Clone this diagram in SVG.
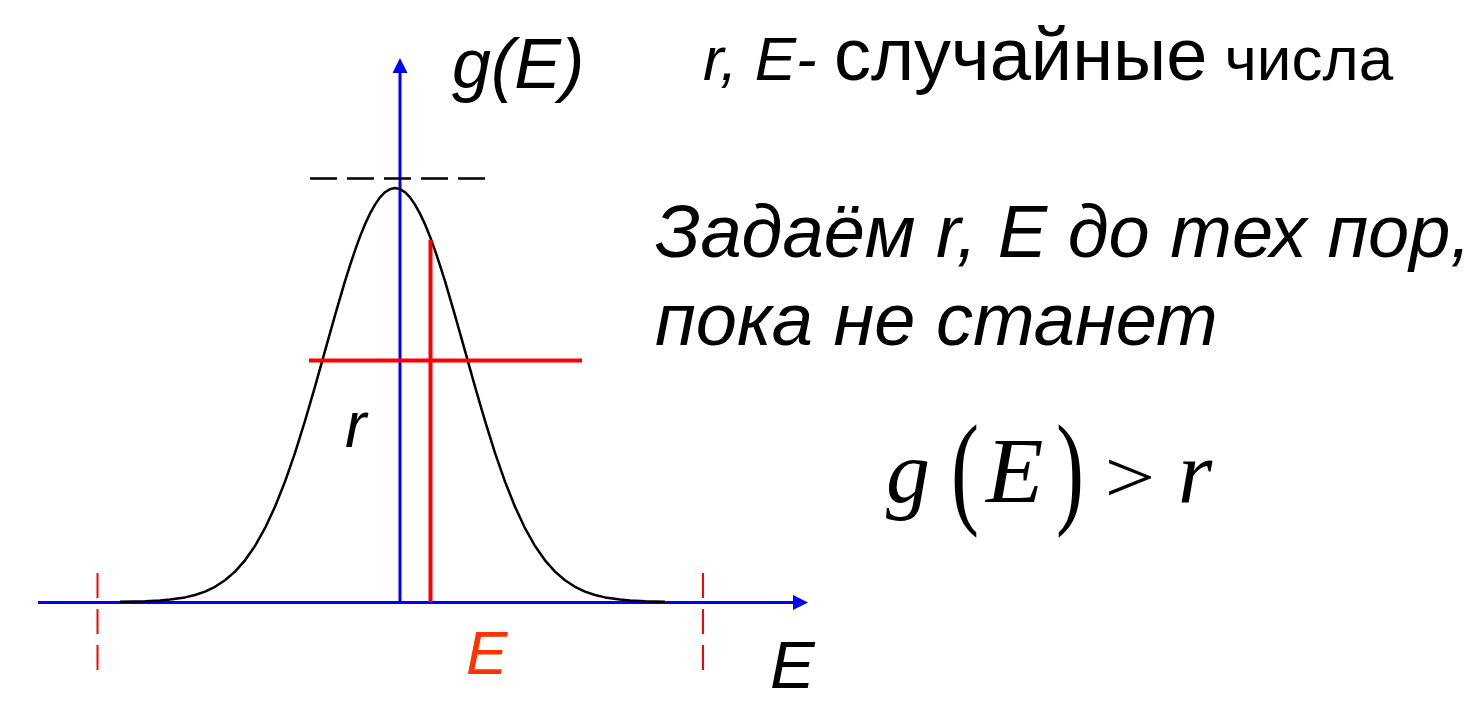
<svg xmlns="http://www.w3.org/2000/svg" width="1482" height="703" viewBox="0 0 1482 703">
<style>
.it{font-style:italic}
.axis{stroke:#0000FF;stroke-width:3;fill:none}
.red{stroke:#FF0000;stroke-width:4;fill:none}
.tick{stroke:#FF0000;stroke-width:2;stroke-dasharray:25 11;fill:none}
</style>
<rect width="1482" height="703" fill="#FFFFFF"/>
<g id="connectors">
<line class="axis" x1="38" y1="602.5" x2="795" y2="602.5"/>
<polygon points="793,595 808,602.5 793,610" fill="#0000FF"/>
<line class="axis" x1="400" y1="602" x2="400" y2="71"/>
<polygon points="392.5,73 400,58 407.5,73" fill="#0000FF"/>
</g>
<g id="curve">
<polyline fill="none" stroke="#000000" stroke-width="2.5" stroke-linejoin="round" points="120,601.8 145,601.3 160,600.5 170,599.6 185,597.4 195,595.0 205,591.6 215,586.8 225,580.3 235,571.6 245,560.3 255,546.0 265,528.2 275,506.7 285,481.6 295,452.8 305,420.8 315,386.6 325,350.9 335,315.3 345,281.2 350,265.3 355,250.4 360,236.6 365,224.3 370,213.6 375,204.6 380,197.4 385,192.2 390,189.1 395,188 400,189.1 405,192.2 410,197.4 415,204.6 420,213.6 425,224.3 430,236.6 435,250.4 440,265.3 445,281.2 455,315.3 465,350.9 475,386.6 485,420.8 495,452.8 505,481.6 515,506.7 525,528.2 535,546.0 545,560.3 555,571.6 565,580.3 575,586.8 585,591.6 595,595.0 605,597.4 620,599.6 630,600.5 645,601.3 665,601.8"/>
</g>
<g id="max-line">
<line x1="310" y1="178.5" x2="486" y2="178.5" stroke="#000000" stroke-width="2.5" stroke-dasharray="27 10"/>
</g>
<g id="limits">
<line class="tick" x1="97.5" y1="573" x2="97.5" y2="672"/>
<line class="tick" x1="703" y1="573" x2="703" y2="672"/>
</g>
<g id="random-point">
<line class="red" x1="430.5" y1="240" x2="430.5" y2="602"/>
<line class="red" x1="309" y1="360.5" x2="582" y2="360.5"/>
</g>
<g id="labels" font-family="Liberation Sans, Arial, sans-serif">
<text class="it" x="452" y="88" font-size="70" fill="#000">g(E)</text>
<text class="it" x="345" y="447" font-size="64" fill="#000">r</text>
<text class="it" x="466" y="674" font-size="62" fill="#FF3300">E</text>
<text class="it" x="770" y="688" font-size="67" fill="#000">E</text>
</g>
<g id="headline" font-family="Liberation Sans, Arial, sans-serif">
<text x="703" y="80" fill="#000"><tspan class="it" font-size="62">r, E- </tspan><tspan font-size="74">случайные</tspan><tspan font-size="62"> числа</tspan></text>
</g>
<g id="condition-text" font-family="Liberation Sans, Arial, sans-serif">
<text class="it" x="655" y="257" font-size="74" fill="#000">Задаём r, E до тех пор,</text>
<text class="it" x="655" y="345" font-size="74" fill="#000">пока не станет</text>
</g>
<g id="formula" font-family="Liberation Serif, Times New Roman, serif" fill="#000">
<text class="it" x="886" y="502" font-size="88">g</text>
<text transform="translate(951,511) scale(1,1.48)" font-size="84">(</text>
<text class="it" x="986" y="502" font-size="94">E</text>
<text transform="translate(1056,511) scale(1,1.48)" font-size="84">)</text>
<text transform="translate(1104.5,502) scale(1.22,1)" font-size="74">&gt;</text>
<text class="it" x="1178" y="502" font-size="88">r</text>
</g>
</svg>
